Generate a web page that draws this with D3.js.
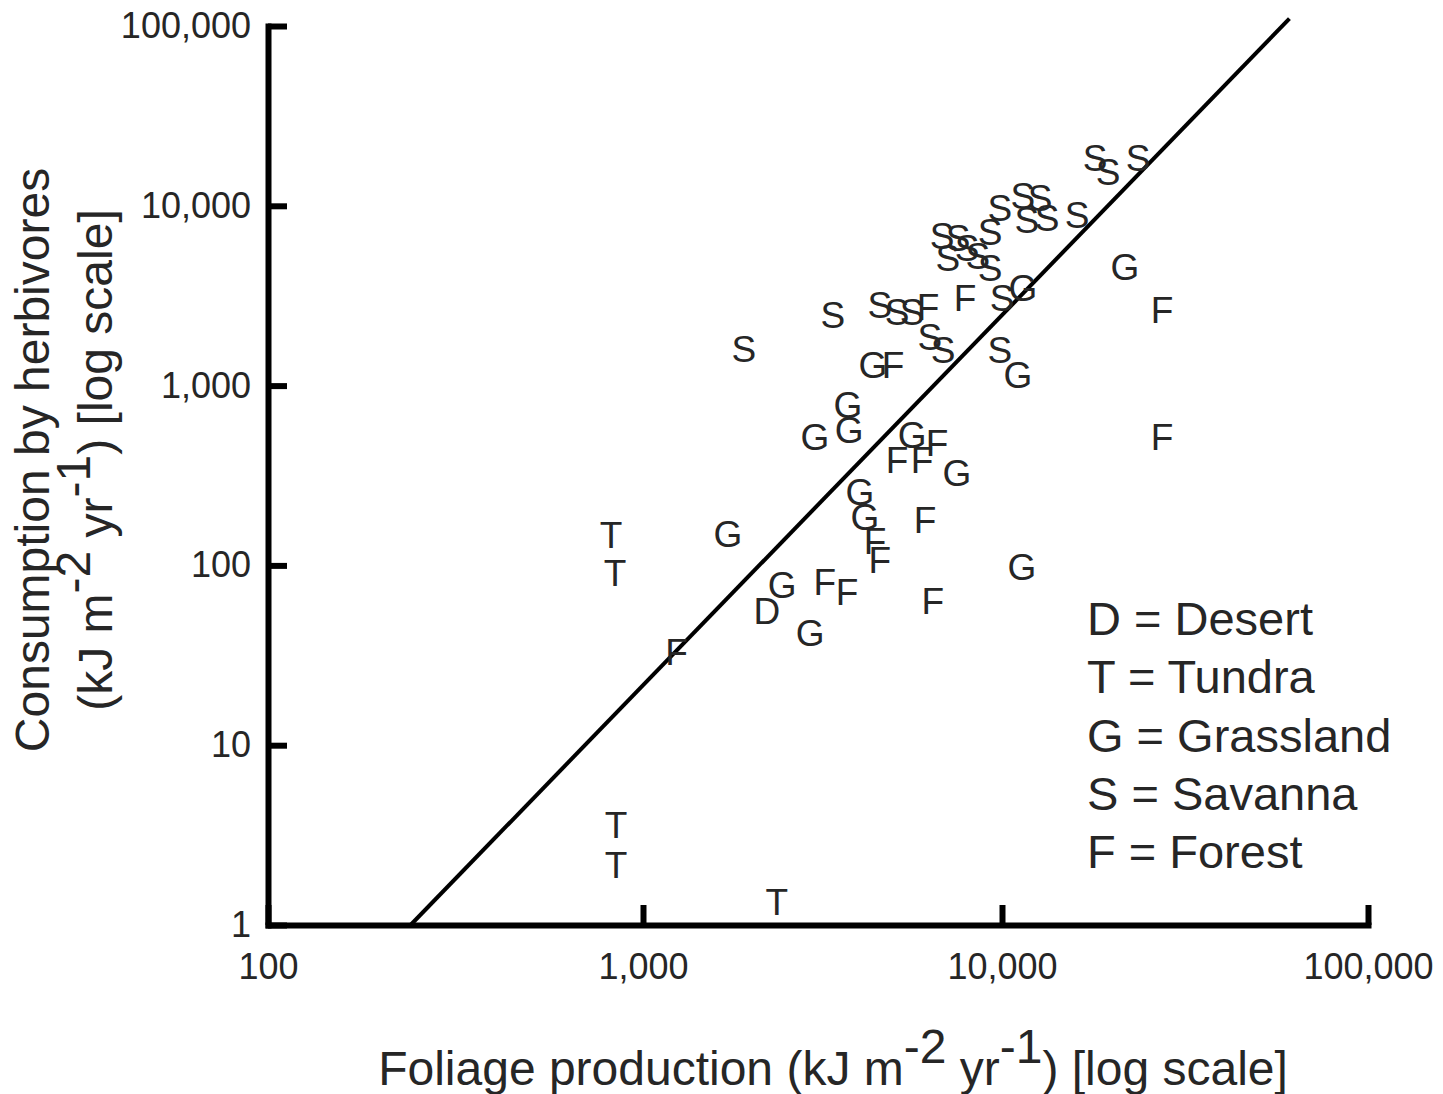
<!DOCTYPE html>
<html>
<head>
<meta charset="utf-8">
<script src="https://cdn.jsdelivr.net/npm/d3@7"></script>
<style>
  body { margin: 0; background: #fff; }
  svg { display: block; font-family: "Liberation Sans", Arial, sans-serif; }
</style>
</head>
<body>
<div id="chart"></div>
<script>
  // biome codes and names for the legend
  const biomeCodes = ["D", "T", "G", "S", "F"];
  const biomeNames = ["Desert", "Tundra", "Grassland", "Savanna", "Forest"];

  // [foliage production, consumption by herbivores] (kJ m-2 yr-1)
  const desert = [[2215, 56]];
  const tundra = [[822, 148], [842, 91], [847, 3.6], [847, 2.16], [2360, 1.34]];
  const grassland = [
    [11410, 3490], [4370, 1300], [11060, 1150], [3720, 780], [3010, 518],
    [3750, 566], [5620, 531], [7490, 327], [4020, 256], [4150, 186],
    [1725, 151], [11340, 98], [2440, 78], [2920, 42], [21680, 4570]
  ];
  const savanna = [
    [1910, 1600], [3380, 2470], [4570, 2810], [5100, 2570], [5620, 2570],
    [6300, 1860], [6850, 1580], [9870, 1580], [10000, 3070], [6810, 6790],
    [7540, 6620], [7070, 5130], [7990, 5830], [8570, 5260], [9260, 4510],
    [9260, 7150], [9870, 9720], [11410, 11340], [12700, 11050], [11700, 8340],
    [13270, 8550], [16030, 8890], [17960, 18450], [19480, 15420], [23530, 18450]
  ];
  const forest = [
    [6220, 2740], [7890, 3070], [4970, 1300], [6590, 480], [5100, 386],
    [5990, 386], [6100, 179], [4430, 138], [4570, 107], [3210, 81],
    [3700, 71], [6420, 64], [1240, 33], [27360, 2630], [27360, 518]
  ];

  // fitted line end points
  const fitLine = [[240, 1], [61000, 110000]];

  const xTicks = [100, 1000, 10000, 100000];
  const yTicks = [1, 10, 100, 1000, 10000, 100000];

  const width = 1443;
  const height = 1094;
  const textColour = "#262626";
  const font = "'Liberation Sans', Arial, sans-serif";

  const x = d3.scaleLog().domain(xTicks).range([268, 643, 1002, 1368]);
  const y = d3.scaleLog().domain([1, 100000]).range([925, 26]);

  const svg = d3
    .select("#chart")
    .append("svg")
    .attr("width", width)
    .attr("height", height);

  // Axes
  const xAxis = d3
    .axisBottom(x)
    .tickValues(xTicks)
    .tickSizeInner(-20)
    .tickSizeOuter(0)
    .tickPadding(28)
    .tickFormat(d3.format(","));

  const yAxis = d3
    .axisLeft(y)
    .tickValues(yTicks)
    .tickSizeInner(-19)
    .tickSizeOuter(0)
    .tickPadding(17)
    .tickFormat(d3.format(","));

  const gx = svg
    .append("g")
    .attr("transform", `translate(0,${y(1)})`)
    .call(xAxis);

  const gy = svg
    .append("g")
    .attr("transform", `translate(${x(100)},0)`)
    .call(yAxis);

  [gx, gy].forEach((g) => {
    g.select(".domain")
      .attr("stroke", "#000")
      .attr("stroke-width", 6)
      .attr("stroke-linecap", "square");
    g.selectAll(".tick line").attr("stroke", "#000").attr("stroke-width", 6);
    g.selectAll(".tick text")
      .attr("fill", textColour)
      .attr("font-size", 36)
      .attr("font-family", font);
  });

  // Fitted line
  svg
    .append("path")
    .datum(fitLine)
    .attr("fill", "none")
    .attr("stroke", "#000")
    .attr("stroke-width", 4)
    .attr(
      "d",
      d3
        .line()
        .x((d) => x(d[0]))
        .y((d) => y(d[1]))
    );

  // Points drawn as biome letters
  const groups = [
    ["D", desert],
    ["T", tundra],
    ["G", grassland],
    ["S", savanna],
    ["F", forest]
  ];

  groups.forEach(([code, pts]) => {
    svg
      .append("g")
      .selectAll("text")
      .data(pts)
      .enter()
      .append("text")
      .attr("x", (d) => x(d[0]))
      .attr("y", (d) => y(d[1]))
      .attr("dy", "0.36em")
      .attr("text-anchor", "middle")
      .attr("font-size", 37)
      .attr("fill", textColour)
      .text(code);
  });

  // Legend
  svg
    .append("g")
    .selectAll("text")
    .data(biomeCodes)
    .enter()
    .append("text")
    .attr("x", 1087)
    .attr("y", (d, i) => 635 + i * 58.3)
    .attr("font-size", 47)
    .attr("fill", textColour)
    .text((d, i) => `${d} = ${biomeNames[i]}`);

  // Axis labels with superscripts
  function addUnits(sel) {
    sel.append("tspan").text("(kJ m");
    sel.append("tspan").attr("dy", "-0.45em").text("-2");
    sel.append("tspan").attr("dy", "0.45em").text(" yr");
    sel.append("tspan").attr("dy", "-0.45em").text("-1");
    sel.append("tspan").attr("dy", "0.45em").text(") [log scale]");
  }

  const xLabel = svg
    .append("text")
    .attr("x", 833)
    .attr("y", 1085)
    .attr("text-anchor", "middle")
    .attr("font-size", 48)
    .attr("fill", textColour);
  xLabel.append("tspan").text("Foliage production ");
  addUnits(xLabel);

  svg
    .append("text")
    .attr("transform", "translate(49,460) rotate(-90)")
    .attr("text-anchor", "middle")
    .attr("font-size", 48)
    .attr("fill", textColour)
    .text("Consumption by herbivores");

  const yLabel2 = svg
    .append("text")
    .attr("transform", "translate(112,460) rotate(-90)")
    .attr("text-anchor", "middle")
    .attr("font-size", 48)
    .attr("fill", textColour);
  addUnits(yLabel2);
</script>
</body>
</html>
